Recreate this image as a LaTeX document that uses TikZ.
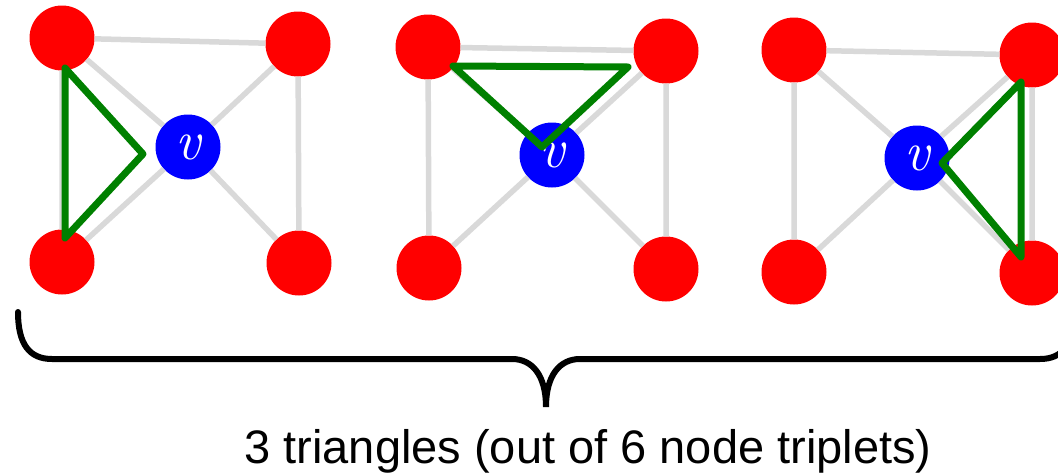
\documentclass[tikz,border=0pt]{standalone}
\usepackage{fontspec}
\newfontfamily\captionfont{Liberation Sans}
\usetikzlibrary{calc}
\definecolor{linkgray}{RGB}{217,217,217}
\definecolor{trigreen}{RGB}{0,128,0}

\begin{document}
\begin{tikzpicture}[
            x=1pt, y=-1pt,
            neigh/.style={circle, fill=red, minimum size=65pt, inner sep=0pt},
            ego/.style={circle, fill=blue, minimum size=65pt, inner sep=0pt, text=white, font=\fontsize{56}{56}\selectfont\itshape},
            link/.style={draw=linkgray, line width=5.5pt},
            tri/.style={draw=trigreen, line width=7pt, line join=round},
            bracket/.style={draw=black, line width=6pt, line cap=round}
        ]
            \useasboundingbox (0,0) rectangle (1058,472);

            % Nodes, first graph
            \node[neigh] (tl1) at (62,38) {};
            \node[neigh] (tr1) at (298,44) {};
            \node[neigh] (bl1) at (62,262) {};
            \node[neigh] (br1) at (299,263) {};
            \node[ego] (v1) at (188,147) {v};

            % Nodes, second graph
            \node[neigh] (tl2) at (428,47) {};
            \node[neigh] (tr2) at (666,51) {};
            \node[neigh] (bl2) at (429,268) {};
            \node[neigh] (br2) at (666,269) {};
            \node[ego] (v2) at (552,155) {v};

            % Nodes, third graph
            \node[neigh] (tl3) at (794,50) {};
            \node[neigh] (tr3) at (1032,55) {};
            \node[neigh] (bl3) at (794,272) {};
            \node[neigh] (br3) at (1032,273) {};
            \node[ego] (v3) at (917,158) {v};

            % Edges
            \draw[link] (tl1) -- (tr1) (tl1) -- (bl1) (tr1) -- (br1)
                (tl1) -- (v1) (tr1) -- (v1) (bl1) -- (v1) (br1) -- (v1);
            \draw[link] (tl2) -- (tr2) (tl2) -- (bl2) (tr2) -- (br2)
                (tl2) -- (v2) (tr2) -- (v2) (bl2) -- (v2) (br2) -- (v2);
            \draw[link] (tl3) -- (tr3) (tl3) -- (bl3) (tr3) -- (br3)
                (tl3) -- (v3) (tr3) -- (v3) (bl3) -- (v3) (br3) -- (v3);

            % Triangles
            \draw[tri] ($(tl1)+(3,30)$) -- ($(v1)+(-45,7)$) -- ($(bl1)+(3,-24)$) -- cycle;
            \draw[tri] ($(tl2)+(25,19)$) -- ($(tr2)+(-38,16)$) -- ($(v2)+(-10,-8)$) -- cycle;
            \draw[tri] ($(tr3)+(-11,27)$) -- ($(br3)+(-11,-16)$) -- ($(v3)+(25,5)$) -- cycle;

            % Brace and caption
            \draw[bracket] (18,312) .. controls (18,345) and (30,359) .. (52,359)
                -- (512,359) .. controls (532,359) and (546,375) .. (546,407)
                .. controls (546,375) and (560,359) .. (580,359)
                -- (1040,359) .. controls (1062,359) and (1074,345) .. (1074,312);
            \node[anchor=base, font=\captionfont\fontsize{47}{47}\selectfont] (caption) at (588,463)
                {3 triangles (out of 6 node triplets)};
        \end{tikzpicture}
\end{document}
